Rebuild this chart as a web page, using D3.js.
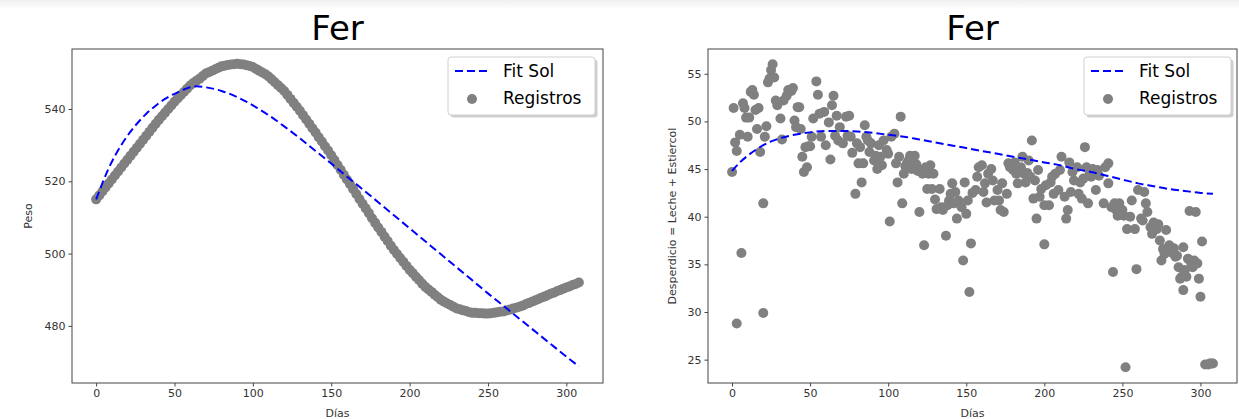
<!DOCTYPE html>
<html>
<head>
<meta charset="utf-8">
<script src="https://cdn.jsdelivr.net/npm/d3@7"></script>
<style>
  html, body { margin: 0; padding: 0; background: #fff; }
  svg { display: block; font-family: "DejaVu Sans", sans-serif; }
</style>
</head>
<body>
<svg id="chart" width="1239" height="419"></svg>
<script>
// ---------------- DATA ----------------
const chartTitle = "Fer";
const xTicks = [0, 50, 100, 150, 200, 250, 300];
const weightTicks = [480, 500, 520, 540];
const wasteTicks = [25, 30, 35, 40, 45, 50, 55];

// Left chart: Peso registros (every 2 days, 0..308)
const weightValues = [
515.0,516.1,517.2,518.3,519.4,520.5,521.6,522.7,523.8,524.9,
526.0,527.1,528.2,529.3,530.4,531.5,532.6,533.7,534.8,535.9,
537.0,538.0,539.0,540.0,541.0,542.0,542.9,543.8,544.7,545.6,
546.5,547.2,547.8,548.4,549.1,549.8,550.2,550.6,551.0,551.4,
551.8,552.0,552.2,552.3,552.4,552.5,552.4,552.3,552.1,551.9,
551.6,551.1,550.6,550.1,549.6,549.0,548.2,547.4,546.6,545.8,
545.0,543.9,542.8,541.7,540.6,539.5,538.3,537.1,535.9,534.7,
533.5,532.2,531.0,529.7,528.5,527.2,525.9,524.5,523.2,521.8,
520.5,519.2,517.8,516.5,515.1,513.8,512.5,511.2,509.8,508.5,
507.2,506.0,504.7,503.5,502.2,501.0,499.9,498.8,497.7,496.6,
495.5,494.6,493.6,492.7,491.7,490.8,490.1,489.4,488.6,487.9,
487.2,486.7,486.2,485.8,485.3,484.8,484.6,484.3,484.1,483.8,
483.6,483.6,483.5,483.5,483.4,483.4,483.5,483.6,483.8,483.9,
484.0,484.3,484.5,484.8,485.0,485.3,485.6,486.0,486.3,486.7,
487.0,487.4,487.8,488.1,488.5,488.9,489.2,489.6,489.9,490.3,
490.6,490.9,491.3,491.6,492.0];
const weightDays = d3.range(0, 309, 2);

// Left chart: Fit Sol
const weightFitDays = [0,4,8,12,16,20,24,28,32,36,40,44,48,52,56,60,64,70,80,90,100,110,120,130,140,150,160,170,180,190,200,210,220,230,240,250,260,270,280,290,300,308];
const weightFitValues = [515.0,519.5,523.6,527.0,530.0,532.6,534.9,536.9,538.7,540.2,541.6,542.8,543.8,544.6,545.4,546.0,546.3,546.0,545.0,543.3,541.0,538.3,535.2,531.9,528.4,524.9,521.3,517.8,514.2,510.6,507.0,503.4,499.8,496.2,492.6,489.0,485.5,482.0,478.5,475.0,471.5,468.8];

// Right chart: Desperdicio registros
const wasteDays = [0,1,2,3,3,5,6,7,8,9,10,11,12,13,14,15,16,17,18,20,20,21,22,23,24,25,26,27,28,29,31,32,33,35,36,38,39,40,41,42,43,44,45,46,47,48,49,50,51,52,54,55,56,57,59,60,62,63,64,65,66,67,68,69,71,73,74,75,76,77,79,80,81,82,83,84,85,86,87,88,89,91,92,93,94,95,96,97,99,100,101,102,104,105,106,107,108,109,110,112,113,114,115,117,118,120,121,122,123,124,125,126,127,128,129,130,131,133,134,135,137,138,139,140,141,142,143,144,145,147,148,149,150,151,152,153,154,156,157,158,160,161,162,163,164,166,167,168,170,171,172,173,174,176,177,178,180,181,182,183,185,186,187,188,190,191,192,193,194,195,196,197,198,200,200,201,203,204,205,206,207,209,210,211,213,214,215,216,217,218,219,221,222,223,224,225,226,227,228,229,230,231,233,234,235,238,239,241,241,243,244,245,246,247,248,250,251,252,253,255,256,258,259,260,262,263,264,265,266,268,269,270,272,273,274,275,277,278,279,280,282,283,284,286,287,288,289,289,290,291,292,293,294,295,296,297,298,299,300,301,303,305,306,307,308,116,119,111,184,189,276,281,285];
const wasteValues = [44.7,51.4,47.8,46.9,28.8,48.6,36.2,51.9,51.4,50.4,48.4,50.4,53.1,53.3,52.8,51.2,49.2,51.4,46.8,41.4,29.9,48.4,49.5,54.1,54.5,55.4,56.0,54.6,52.2,51.7,50.3,48.1,52.2,52.7,53.3,53.2,53.5,50.1,49.4,51.5,51.5,49.2,46.3,44.7,47.3,45.2,47.4,47.4,48.4,50.3,54.2,52.8,50.8,48.4,51.0,47.5,49.9,46.0,51.7,52.7,48.5,50.6,48.0,49.4,47.7,50.5,48.5,50.6,48.4,46.7,42.4,47.7,45.6,47.3,43.6,45.6,49.6,48.4,48.0,46.8,47.7,45.9,46.4,45.0,47.5,46.3,45.4,48.0,47.0,46.6,39.5,48.4,48.7,45.6,43.6,46.3,50.5,41.4,44.5,45.6,45.9,46.4,45.0,46.4,45.5,40.5,44.9,44.5,37.0,45.2,42.9,44.5,45.4,42.9,44.5,41.8,40.8,42.9,41.0,40.7,38.0,41.2,41.7,42.4,43.5,41.4,42.6,39.8,41.7,41.0,35.4,43.6,40.3,41.7,32.1,37.2,42.5,42.8,44.2,45.2,45.4,42.6,43.5,41.5,44.5,45.0,43.8,41.7,42.8,41.7,40.7,43.5,40.5,42.4,45.6,45.2,44.9,45.7,44.5,43.5,45.2,46.3,44.5,43.6,45.9,44.2,48.0,41.9,43.8,39.8,44.9,42.1,42.9,37.1,41.2,43.3,41.2,43.6,44.2,42.4,44.5,42.8,44.9,46.3,42.1,39.8,40.7,45.7,42.6,44.7,43.8,45.2,42.4,43.6,41.9,44.0,47.3,45.2,41.4,44.5,44.2,45.0,42.8,44.9,44.3,41.4,45.2,45.6,43.5,41.0,34.2,41.4,40.7,40.1,41.4,40.7,40.1,24.2,38.7,40.0,41.7,38.7,34.5,42.8,39.8,39.6,42.6,41.4,40.5,38.9,38.2,39.4,38.7,39.2,37.5,35.4,36.1,38.6,36.5,37.0,36.2,36.7,35.8,34.7,33.5,33.7,36.8,32.3,34.4,33.7,35.6,40.6,35.2,34.7,35.4,40.5,35.1,33.5,31.6,37.4,24.5,24.5,24.6,24.6,24.6,45.1,44.8,45.3,44.9,44.6,36.6,36.8,35.9];

// Right chart: Fit Sol
const wasteFitDays = [0,5,10,15,20,25,30,40,50,60,70,80,90,100,110,120,130,140,150,160,170,180,190,200,210,220,230,240,250,260,270,280,290,300,308];
const wasteFitValues = [44.8,45.7,46.4,47.0,47.5,47.9,48.2,48.6,48.85,49.0,49.0,48.95,48.8,48.6,48.4,48.1,47.8,47.5,47.2,46.9,46.6,46.3,46.0,45.7,45.4,45.0,44.7,44.3,43.9,43.5,43.2,42.9,42.7,42.5,42.4];

const legendLabels = ["Fit Sol", "Registros"];

// ---------------- DRAW ----------------
const svg = d3.select("#chart");

// faint notebook strip at top
const grad = svg.append("defs").append("linearGradient").attr("id","topg").attr("x1",0).attr("x2",0).attr("y1",0).attr("y2",1);
grad.append("stop").attr("offset","0%").attr("stop-color","#f0f0f0");
grad.append("stop").attr("offset","100%").attr("stop-color","#ffffff");
svg.append("rect").attr("x",0).attr("y",0).attr("width",1239).attr("height",9).attr("fill","url(#topg)");

function panel(opts) {
  const g = svg.append("g");
  const x = d3.scaleLinear().domain([-15.4, 323.4]).range([opts.left, opts.right]);
  const y = d3.scaleLinear().domain(opts.yDomain).range([383, 49]);

  // scatter
  g.append("g").selectAll("circle")
    .data(opts.days.map((d, i) => [d, opts.values[i]]))
    .join("circle")
    .attr("cx", d => x(d[0]))
    .attr("cy", d => y(d[1]))
    .attr("r", 5)
    .attr("fill", "#808080");

  // fit line
  const line = d3.line().x(d => x(d[0])).y(d => y(d[1])).curve(d3.curveMonotoneX);
  g.append("path")
    .datum(opts.fitDays.map((d, i) => [d, opts.fitValues[i]]))
    .attr("d", line)
    .attr("fill", "none")
    .attr("stroke", "#0000ff")
    .attr("stroke-width", 2)
    .attr("stroke-dasharray", "8,4");

  // axes
  const xAxis = d3.axisBottom(x).tickValues(xTicks).tickSize(3.5).tickPadding(3).tickSizeOuter(0);
  const gx = g.append("g").attr("transform", "translate(0,383)").call(xAxis);
  const yAxis = d3.axisLeft(y).tickValues(opts.yTicks).tickSize(3.5).tickPadding(3).tickSizeOuter(0);
  const gy = g.append("g").attr("transform", `translate(${opts.left},0)`).call(yAxis);
  [gx, gy].forEach(a => {
    a.select(".domain").remove();
    a.selectAll(".tick line").attr("stroke", "#444");
    a.selectAll(".tick text").attr("fill", "#333").style("font-size", "11px").style("font-family", "DejaVu Sans");
  });

  // frame
  g.append("rect")
    .attr("x", opts.left).attr("y", 49)
    .attr("width", opts.right - opts.left).attr("height", 334)
    .attr("fill", "none").attr("stroke", "#444").attr("stroke-width", 1);

  // title
  g.append("text")
    .attr("x", (opts.left + opts.right) / 2).attr("y", 40)
    .attr("text-anchor", "middle")
    .style("font-size", "34px").attr("fill", "#000")
    .text(chartTitle);

  // axis labels
  g.append("text")
    .attr("x", (opts.left + opts.right) / 2).attr("y", 417)
    .attr("text-anchor", "middle")
    .style("font-size", "11px").attr("fill", "#333")
    .text("Días");
  g.append("text")
    .attr("transform", `translate(${opts.yLabelX},216) rotate(-90)`)
    .attr("text-anchor", "middle")
    .attr("dy", "0.35em")
    .style("font-size", "11px").attr("fill", "#333")
    .text(opts.yLabel);

  // legend
  const lx = opts.legendX, ly = 57, lw = opts.legendW, lh = 58;
  const lg = g.append("g");
  lg.append("rect").attr("x", lx + 2.5).attr("y", ly + 2.5).attr("width", lw).attr("height", lh)
    .attr("rx", 3).attr("fill", "#bbbbbb").attr("opacity", 0.7);
  lg.append("rect").attr("x", lx).attr("y", ly).attr("width", lw).attr("height", lh)
    .attr("rx", 3).attr("fill", "#fff").attr("stroke", "#d0d0d0").attr("stroke-width", 1);
  lg.append("line").attr("x1", lx + 7).attr("x2", lx + 42).attr("y1", ly + 14).attr("y2", ly + 14)
    .attr("stroke", "#0000ff").attr("stroke-width", 2).attr("stroke-dasharray", "8,4");
  lg.append("circle").attr("cx", lx + 24).attr("cy", ly + 42).attr("r", 5).attr("fill", "#808080");
  lg.selectAll("text.leg").data(legendLabels).join("text")
    .attr("class", "leg")
    .attr("x", lx + 55).attr("y", (d, i) => ly + 14 + i * 27)
    .attr("dy", "0.36em")
    .style("font-size", "17px").attr("fill", "#000")
    .text(d => d);
}

panel({
  left: 72, right: 603, yDomain: [464.2, 556.6], yTicks: weightTicks,
  days: weightDays, values: weightValues,
  fitDays: weightFitDays, fitValues: weightFitValues,
  yLabel: "Peso", yLabelX: 28, legendX: 448, legendW: 147
});
panel({
  left: 708, right: 1237, yDomain: [22.55, 57.6], yTicks: wasteTicks,
  days: wasteDays, values: wasteValues,
  fitDays: wasteFitDays, fitValues: wasteFitValues,
  yLabel: "Desperdicio = Leche + Estiercol", yLabelX: 672, legendX: 1084, legendW: 147
});
</script>
</body>
</html>
